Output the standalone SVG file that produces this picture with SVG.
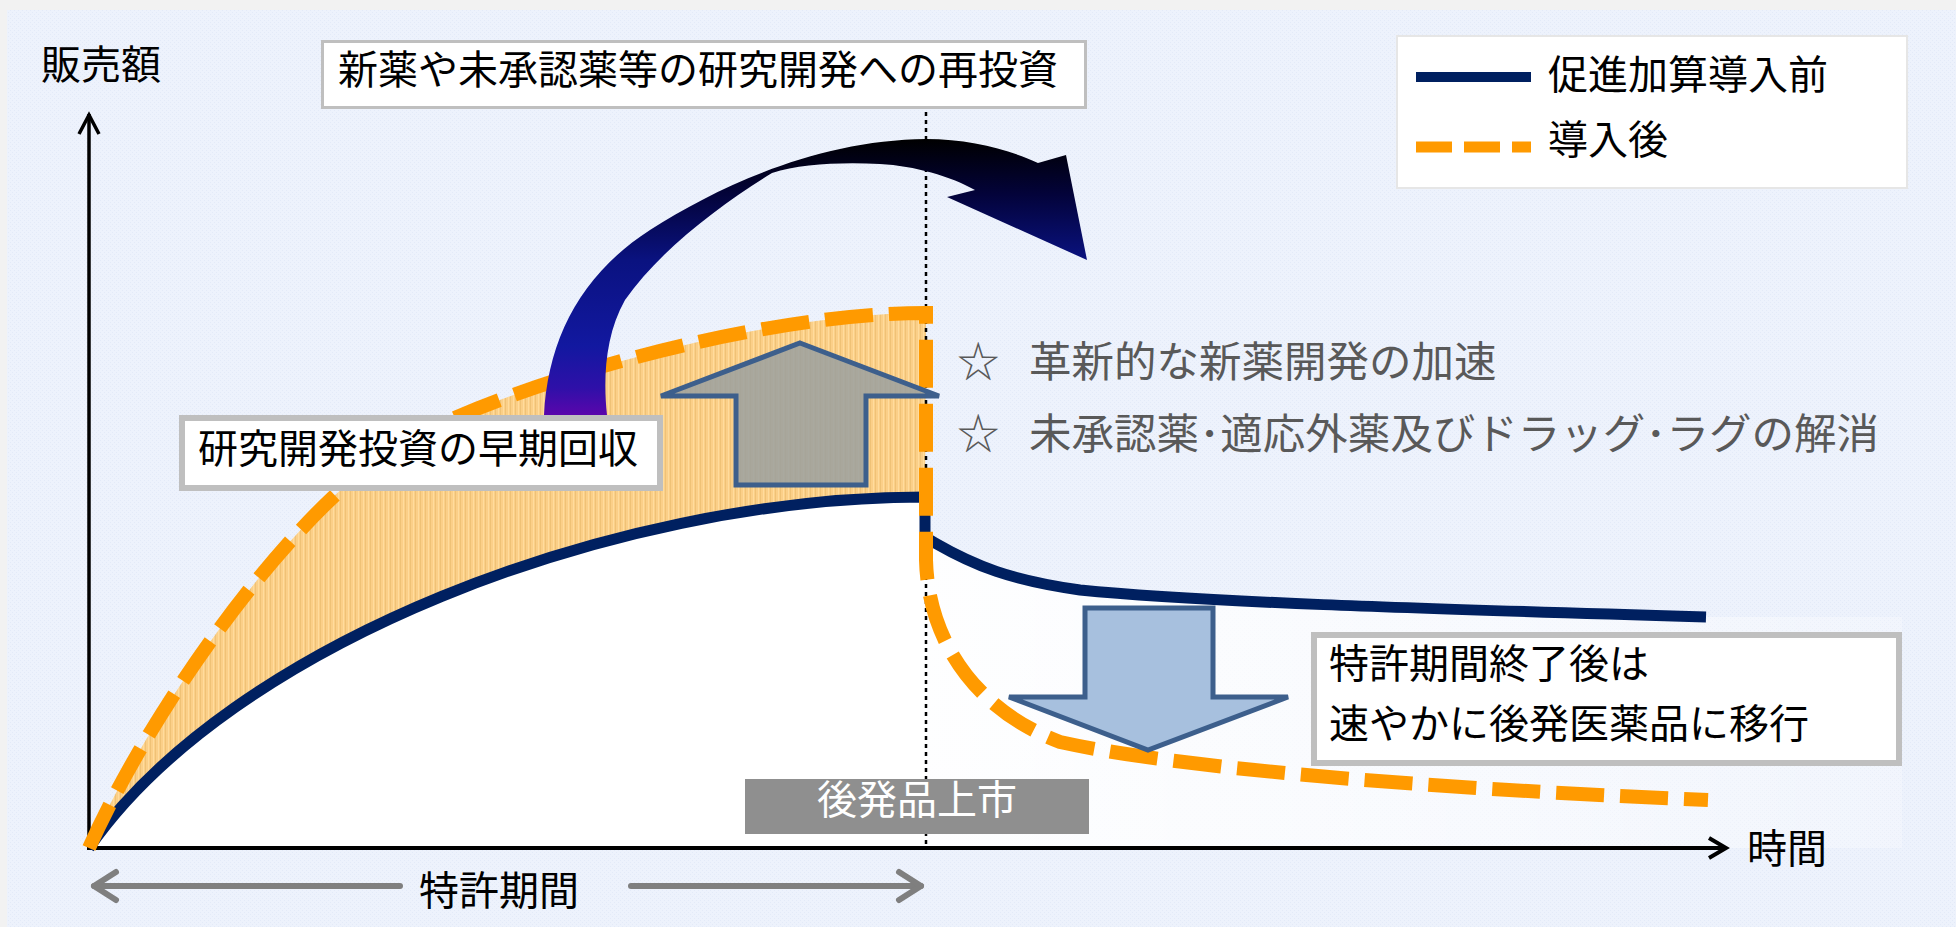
<svg xmlns="http://www.w3.org/2000/svg" width="1956" height="927" viewBox="0 0 1956 927">
<style>
.t{font-family:"Noto Sans CJK JP","Noto Sans CJK SC",sans-serif;font-size:40px;fill:#000}
.g{font-family:"Noto Sans CJK JP","Noto Sans CJK SC",sans-serif;font-size:42.5px;fill:#595959}
.w{font-family:"Noto Sans CJK JP","Noto Sans CJK SC",sans-serif;font-size:40px;fill:#fff}
.box{fill:#fff;stroke:#BFBFBF}
</style>
<defs>
<pattern id="bgtex" width="4" height="4" patternUnits="userSpaceOnUse">
<rect width="4" height="4" fill="#EDF2FC"/>
<rect x="0" y="0" width="1" height="1" fill="#E3EAF8"/>
<rect x="2" y="2" width="1" height="1" fill="#E3EAF8"/>
</pattern>
<pattern id="stripes" width="5" height="10" patternUnits="userSpaceOnUse">
<rect width="5" height="10" fill="#FBCF88"/>
<rect x="0" width="1" height="10" fill="#EFC276"/>
<rect x="3" width="1" height="10" fill="#FFDC9C"/>
</pattern>
<linearGradient id="arc" gradientUnits="userSpaceOnUse" x1="0" y1="139" x2="0" y2="415">
<stop offset="0" stop-color="#000000"/>
<stop offset="0.2" stop-color="#03033A"/>
<stop offset="0.44" stop-color="#0A1280"/>
<stop offset="0.75" stop-color="#1218A0"/>
<stop offset="0.9" stop-color="#2E10A8"/>
<stop offset="1" stop-color="#5A06AC"/>
</linearGradient>
<linearGradient id="fade" gradientUnits="userSpaceOnUse" x1="925" y1="0" x2="1902" y2="0">
<stop offset="0" stop-color="#fff" stop-opacity="0.95"/>
<stop offset="0.6" stop-color="#fff" stop-opacity="0.6"/>
<stop offset="1" stop-color="#fff" stop-opacity="0.25"/>
</linearGradient>
</defs>

<g id="background">
<rect width="1956" height="927" fill="#F2F2F2"/>
<rect x="7" y="10" width="1949" height="917" fill="url(#bgtex)"/>
</g>

<g id="areas">
<path d="M925,537 L935,543 C975,566 1010,580 1080,590 C1200,602 1400,608 1706,617 L1902,617 L1902,848 L925,848 Z" fill="url(#fade)"/>
<path d="M89,848 C230,645 610,497 925,497 L925,848 Z" fill="#fff"/>
<path d="M89,848 C160,690 310,490 410,439 C520,381 760,313 926,313 L925,497 C610,497 230,645 89,848 Z" fill="url(#stripes)"/>
</g>

<g id="connectors">
<line x1="926" y1="112" x2="926" y2="848" stroke="#000" stroke-width="2.5" stroke-dasharray="4 4"/>
<line x1="89" y1="114" x2="89" y2="850" stroke="#000" stroke-width="3.5"/>
<polyline points="79,134 89,115 99,134" fill="none" stroke="#000" stroke-width="3.5"/>
<line x1="87" y1="848" x2="1725" y2="848" stroke="#000" stroke-width="4"/>
<polyline points="1709,838 1726,848 1709,858" fill="none" stroke="#000" stroke-width="4"/>
<path d="M89,848 C230,645 610,497 925,497 L925,537 L935,543 C975,566 1010,580 1080,590 C1200,602 1400,608 1706,617" fill="none" stroke="#002060" stroke-width="11"/>
<path d="M89,848 C160,690 310,490 410,439 C520,381 760,313 926,313 L926,560 C928,640 975,710 1060,742 C1150,762 1350,785 1708,800" fill="none" stroke="#FF9A00" stroke-width="14" stroke-dasharray="48 16"/>
<g stroke="#7F7F7F" stroke-width="6" fill="none" stroke-linecap="round" stroke-linejoin="round">
<line x1="94" y1="886" x2="400" y2="886"/>
<line x1="631" y1="886" x2="921" y2="886"/>
<polyline points="116,872 94,886 116,900"/>
<polyline points="899,872 921,886 899,900"/>
</g>
</g>

<g id="node-up-arrow">
<path d="M800,343 L939,396 L866,396 L866,485 L736,485 L736,396 L661,396 Z" fill="#9AA0A0" fill-opacity="0.85" stroke="#3D5F8C" stroke-width="5" stroke-miterlimit="4"/>
</g>

<g id="node-down-arrow">
<path d="M1085,608 L1213,608 L1213,697 L1288,697 L1148,750 L1009,697 L1085,697 Z" fill="#A7C0DE" stroke="#3D5F8C" stroke-width="5" stroke-miterlimit="4"/>
</g>

<g id="node-curved-arrow">
<path d="M544,415 C548,340 580,275 650,230 C720,185 820,140 926,139 C970,139 1010,150 1038,163 L1066,155 L1087,260 L947,197 L975,190 C950,176 915,166 880,164 C840,162 800,164 772,173 C720,205 660,250 625,300 C605,335 603,380 607,415 Z" fill="url(#arc)"/>
</g>

<g id="node-y-label">
<text class="t" x="41" y="79">販売額</text>
</g>
<g id="node-x-label">
<text class="t" x="1747" y="863">時間</text>
</g>
<g id="node-patent-period">
<text class="t" x="419" y="905">特許期間</text>
</g>

<g id="node-reinvest">
<rect class="box" x="322.5" y="41.5" width="763" height="66" stroke-width="3"/>
<text class="t" x="338" y="84">新薬や未承認薬等の研究開発への再投資</text>
</g>

<g id="node-legend">
<rect x="1397" y="36" width="510" height="152" fill="#fff" stroke="#E6E6E6" stroke-width="2"/>
<line x1="1416" y1="77" x2="1531" y2="77" stroke="#002060" stroke-width="10"/>
<line x1="1416" y1="147" x2="1531" y2="147" stroke="#FF9A00" stroke-width="11" stroke-dasharray="36 12"/>
<text class="t" x="1548" y="89">促進加算導入前</text>
<text class="t" x="1548" y="154">導入後</text>
</g>

<g id="node-benefits">
<text class="g" x="957" y="377">☆</text>
<text class="g" x="1029" y="377">革新的な新薬開発の加速</text>
<text class="g" x="957" y="449">☆</text>
<text class="g" x="1029" y="449">未承認薬･適応外薬及びドラッグ･ラグの解消</text>
</g>

<g id="node-early-recovery">
<rect class="box" x="182" y="418" width="478" height="70" stroke-width="6"/>
<text class="t" x="198" y="463">研究開発投資の早期回収</text>
</g>

<g id="node-generic-shift">
<rect class="box" x="1314" y="635" width="585" height="128" stroke-width="6"/>
<text class="t" x="1329" y="678">特許期間終了後は</text>
<text class="t" x="1329" y="738">速やかに後発医薬品に移行</text>
</g>

<g id="node-generic-launch">
<rect x="745" y="779" width="344" height="55" fill="#8F8F8F"/>
<text class="w" x="917" y="814" text-anchor="middle">後発品上市</text>
</g>
</svg>
